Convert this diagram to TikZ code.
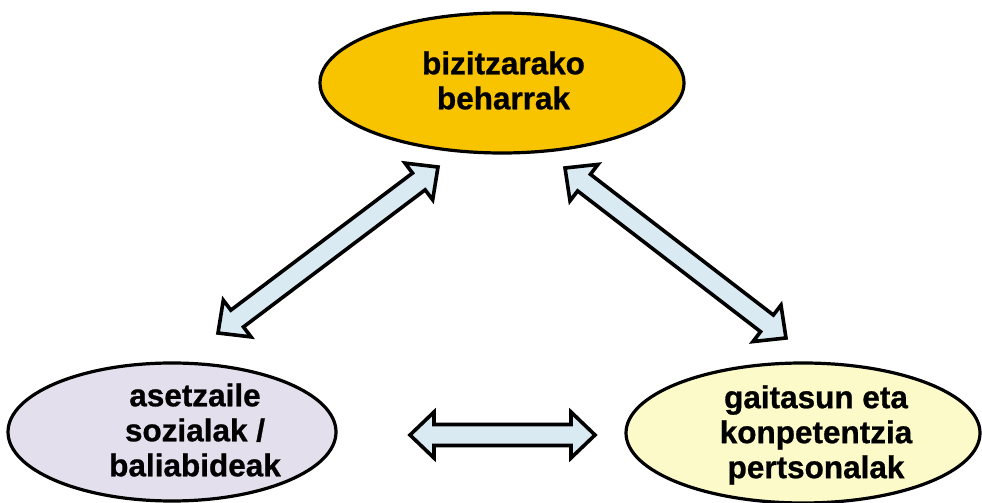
\documentclass[tikz,border=0pt]{standalone}
\usepackage{fontspec}
\setmainfont{Liberation Sans}[BoldFeatures={FakeBold=0.8}]
\usetikzlibrary{shapes.geometric,calc}

\definecolor{goldfill}{RGB}{248,196,0}
\definecolor{lavfill}{RGB}{227,223,236}
\definecolor{creamfill}{RGB}{252,250,200}
\definecolor{arrowfill}{RGB}{218,234,242}

\tikzset{
  bubble/.style={ellipse, draw=black, line width=3.2pt, inner sep=0pt},
  caption/.style={align=center, inner sep=0pt,
    font=\fontsize{31.5}{35}\selectfont\bfseries},
  fatarrow/.style={draw=black, fill=arrowfill, line width=3.6pt, line join=miter},
}

% double-headed block arrow between two named coordinates
\newcommand\fatarrow[2]{%
  \draw[fatarrow] let \p1=(#1), \p2=(#2),
    \n1={atan2(\y2-\y1,\x2-\x1)}, \n2={veclen(\x2-\x1,\y2-\y1)} in
    [shift={(\p1)}, rotate=\n1]
    (0pt,0pt) -- (24pt,23pt) -- (24pt,10.5pt) -- (\n2-24pt,10.5pt)
    -- (\n2-24pt,23pt) -- (\n2,0pt) -- (\n2-24pt,-23pt)
    -- (\n2-24pt,-10.5pt) -- (24pt,-10.5pt) -- (24pt,-23pt) -- cycle;}

\begin{document}
\begin{tikzpicture}[x=1pt,y=1pt]
  \useasboundingbox (0,0) rectangle (982,503);

  % the three bubbles
  \node[bubble, fill=goldfill, minimum width=364pt, minimum height=140pt] (needs) at (502,420) {};
  \node[bubble, fill=lavfill, minimum width=328pt, minimum height=138pt] (social) at (172,71) {};
  \node[bubble, fill=creamfill, minimum width=354pt, minimum height=140pt] (skills) at (803,70) {};

  \node[caption] (needsT) at ($(needs)+(1.5,2.5)$) {bizitzarako\\beharrak};
  \node[caption] (socialT) at ($(social)+(23,2)$) {asetzaile\\sozialak /\\baliabideak};
  \node[caption] (skillsT) at ($(skills)+(13,-2)$) {gaitasun eta\\konpetentzia\\pertsonalak};

  % arrow end points in the gaps between the bubbles
  \coordinate (nl) at (438,336);
  \coordinate (sl) at (218,170);
  \coordinate (nr) at (565,335);
  \coordinate (sr) at (786,165);
  \coordinate (ml) at (410,68);
  \coordinate (mr) at (595,68);

  \fatarrow{sl}{nl}
  \fatarrow{nr}{sr}
  \fatarrow{ml}{mr}
\end{tikzpicture}
\end{document}
